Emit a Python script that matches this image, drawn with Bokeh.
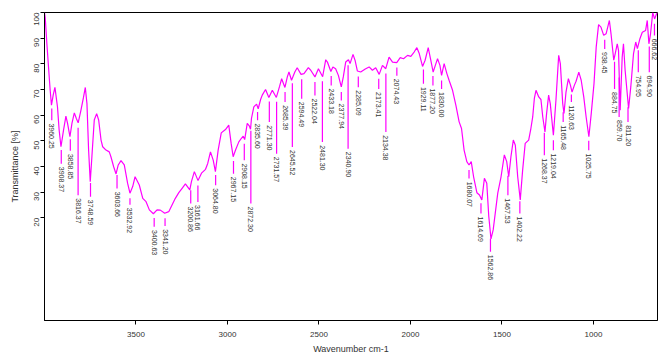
import numpy as np
from bokeh.plotting import figure
from bokeh.models import Range1d, FixedTicker, ColumnDataSource
from bokeh.core.properties import value
from bokeh.embed import file_html
from bokeh.resources import INLINE

# ---- spectrum (wavenumber cm-1, transmittance %) ----
wavenumber = [4000, 3996, 3987, 3980, 3969, 3962, 3952, 3943, 3929, 3920, 3910, 3896, 3883, 3874,
              3861, 3850, 3837, 3826, 3816, 3801, 3787, 3777, 3768, 3759, 3750, 3741, 3728, 3715,
              3704, 3691, 3682, 3664, 3646, 3637, 3622, 3609, 3597, 3582, 3564, 3546, 3533, 3518,
              3505, 3482, 3463, 3445, 3427, 3405, 3385, 3367, 3343, 3321, 3303, 3285, 3266, 3248,
              3230, 3206, 3197, 3181, 3161, 3142, 3120, 3108, 3093, 3078, 3066, 3051, 3034, 3011,
              2993, 2980, 2969, 2956, 2938, 2925, 2914, 2906, 2892, 2880, 2874, 2869, 2856, 2841,
              2832, 2819, 2810, 2792, 2774, 2755, 2733, 2715, 2704, 2686, 2673, 2664, 2650, 2632,
              2619, 2598, 2582, 2558, 2545, 2522, 2503, 2480, 2463, 2454, 2435, 2424, 2409, 2394,
              2378, 2367, 2354, 2339, 2330, 2314, 2303, 2290, 2272, 2247, 2226, 2208, 2190, 2171,
              2153, 2135, 2117, 2098, 2075, 2056, 2038, 2016, 1998, 1980, 1965, 1952, 1934, 1920,
              1903, 1889, 1876, 1861, 1852, 1839, 1830, 1816, 1801, 1789, 1770, 1752, 1734, 1721,
              1707, 1692, 1680, 1668, 1655, 1637, 1623, 1610, 1596, 1583, 1572, 1560, 1548, 1523,
              1505, 1487, 1474, 1463, 1451, 1438, 1427, 1414, 1400, 1387, 1373, 1354, 1342, 1332,
              1323, 1314, 1299, 1287, 1277, 1265, 1256, 1245, 1236, 1219, 1205, 1190, 1181, 1168,
              1161, 1150, 1137, 1126, 1117, 1104, 1095, 1080, 1067, 1053, 1040, 1025, 1012, 997,
              985, 972, 959, 944, 931, 913, 904, 889, 881, 870, 863, 854, 843, 836, 827, 808, 796,
              781, 769, 760, 746, 733, 715, 706, 697, 688, 676, 666, 655, 650]
transmittance = [100, 98.0, 87.8, 80.7, 69.7, 63.9, 68.0, 70.8, 63.2, 54.2, 47.7, 54.2, 59.6, 56.8,
                 51.6, 56.8, 60.9, 58.7, 57.0, 61.9, 66.9, 70.8, 64.5, 46.4, 34.1, 43.8, 58.1, 60.6,
                 58.1, 50.3, 47.7, 46.4, 45.7, 43.8, 39.9, 37.1, 40.6, 42.3, 40.6, 33.5, 29.6, 32.2,
                 36.0, 32.8, 27.6, 26.3, 23.1, 21.6, 23.1, 23.0, 21.8, 22.4, 25.0, 27.6, 29.8, 31.5,
                 33.2, 30.9, 34.1, 38.0, 34.5, 37.4, 38.9, 41.2, 45.7, 42.5, 38.0, 46.4, 53.1, 54.4,
                 56.1, 49.0, 43.8, 46.4, 49.6, 50.9, 51.8, 50.5, 56.8, 55.7, 54.5, 58.7, 63.2, 64.3,
                 62.5, 66.1, 67.8, 70.0, 66.9, 69.7, 66.9, 71.3, 74.2, 70.8, 74.9, 76.8, 73.6, 76.8,
                 78.5, 75.9, 76.2, 78.5, 77.5, 74.9, 78.1, 75.0, 81.6, 80.7, 77.0, 78.8, 78.1, 75.5,
                 71.0, 74.9, 80.7, 81.6, 80.1, 83.7, 81.4, 77.2, 76.8, 78.0, 78.8, 77.5, 78.5, 75.9,
                 79.4, 78.1, 82.6, 80.7, 80.5, 82.4, 82.0, 83.3, 82.9, 84.6, 86.3, 84.0, 79.0, 81.4,
                 86.3, 81.4, 76.8, 80.1, 82.0, 79.4, 75.5, 80.1, 76.2, 73.6, 69.7, 63.9, 57.4, 54.8,
                 46.4, 41.9, 40.6, 41.9, 36.0, 29.8, 28.9, 27.0, 35.4, 33.5, 20.5, 11.8, 15.3, 29.6,
                 36.0, 44.5, 41.9, 36.0, 43.8, 50.3, 48.3, 36.0, 27.0, 38.6, 49.0, 50.3, 54.8, 59.3,
                 66.5, 69.7, 67.1, 66.1, 59.3, 53.5, 60.7, 67.8, 64.5, 52.2, 65.8, 83.3, 80.1, 64.5,
                 60.7, 69.0, 74.2, 71.7, 69.0, 71.7, 73.2, 76.8, 73.6, 67.1, 59.3, 51.6, 60.7, 72.3,
                 86.5, 95.3, 94.3, 91.1, 91.7, 96.9, 91.7, 81.4, 84.0, 87.8, 85.2, 61.9, 82.6, 87.8,
                 77.5, 62.6, 71.0, 84.0, 88.5, 85.9, 89.8, 92.3, 93.0, 96.9, 87.8, 91.7, 100, 97.5,
                 99.5, 100]

# ---- peak annotations ----
peak_wavenumber = [3960.25, 3908.37, 3858.85, 3816.37, 3748.59, 3603.66, 3532.92, 3400.63, 3341.20,
                   3200.86, 3161.66, 3064.80, 2967.15, 2908.15, 2872.30, 2835.60, 2771.30, 2731.57,
                   2685.39, 2645.52, 2594.49, 2522.04, 2481.30, 2433.18, 2377.94, 2340.90, 2285.09,
                   2173.41, 2134.38, 2074.43, 1929.11, 1877.20, 1830.00, 1680.07, 1614.69, 1562.86,
                   1467.53, 1402.22, 1268.37, 1219.04, 1165.48, 1120.63, 1025.75, 938.45, 884.75,
                   859.70, 811.20, 754.95, 694.90, 666.62]
peak_label = ["%.2f" % w for w in peak_wavenumber]
peak_label_level = [56.8, 39.9, 44.9, 27.6, 27.0, 30.2, 23.9, 15.3, 15.6,
                    24.4, 25.0, 31.5, 36.0, 41.2, 24.4, 56.8, 56.1, 43.8,
                    63.9, 46.4, 65.2, 66.5, 48.3, 70.4, 64.5, 45.7, 69.7,
                    69.0, 52.2, 74.2, 71.0, 70.4, 69.0, 34.1, 20.5, 5.6,
                    27.6, 20.5, 43.2, 45.1, 56.1, 63.9, 45.1, 84.6, 69.0,
                    58.1, 56.1, 75.5, 75.5, 89.8]

x_ticks = [3500, 3000, 2500, 2000, 1500, 1000]
y_ticks = [20, 30, 40, 50, 60, 70, 80, 90, 100]

MAGENTA = "#ff00ff"

p = figure(width=658, height=356, output_backend="svg", toolbar_location=None,
           x_range=Range1d(4000, 650), y_range=Range1d(-20, 100),
           min_border_left=44, min_border_right=1, min_border_top=12, min_border_bottom=35)

p.line(wavenumber, transmittance, line_color=MAGENTA, line_width=1.2)

wn_sorted = np.array(wavenumber[::-1], dtype=float)
t_sorted = np.array(transmittance[::-1], dtype=float)
curve_at_peak = np.interp(np.array(peak_wavenumber), wn_sorted, t_sorted)
line_top = [min(c - 2.0, 99) for c in curve_at_peak]
line_bottom = [lv + 1.2 for lv in peak_label_level]
line_top = [max(t, b + 1.5) for t, b in zip(line_top, line_bottom)]

src = ColumnDataSource(dict(x=peak_wavenumber, y0=line_top, y1=line_bottom,
                            ly=peak_label_level, txt=peak_label))
p.segment(x0="x", y0="y0", x1="x", y1="y1", source=src, line_color=MAGENTA, line_width=1.2)
p.text(x="x", y="ly", text="txt", source=src, angle=-np.pi / 2,
       text_align="left", text_baseline="middle", text_font=value("Liberation Sans"),
       text_font_size="7px", text_color="#333333")

p.grid.visible = False
p.outline_line_color = "black"
p.outline_line_width = 1
p.background_fill_color = "white"
p.border_fill_color = "white"

p.xaxis.ticker = FixedTicker(ticks=x_ticks)
p.yaxis.ticker = FixedTicker(ticks=y_ticks)
for ax in (p.xaxis, p.yaxis):
    ax.minor_tick_line_color = None
    ax.major_tick_in = 0
    ax.major_tick_out = 4
    ax.major_tick_line_color = "black"
    ax.axis_line_color = "black"
    ax.major_label_text_font = "Liberation Sans"
    ax.major_label_text_font_size = "8px"
    ax.major_label_text_color = "#333333"
    ax.axis_label_text_font = "Liberation Sans"
    ax.axis_label_text_font_size = "9px"
    ax.axis_label_text_font_style = "normal"
    ax.axis_label_text_color = "#333333"

p.xaxis.axis_label = "Wavenumber cm-1"
p.xaxis.major_label_standoff = 7
p.xaxis.axis_label_standoff = 4
p.yaxis.axis_label = "Transmittance [%]"
p.yaxis.major_label_orientation = np.pi / 2
p.yaxis.major_label_standoff = 4
p.yaxis.axis_label_standoff = 9

open("out.html", "w").write(file_html(p, INLINE))
